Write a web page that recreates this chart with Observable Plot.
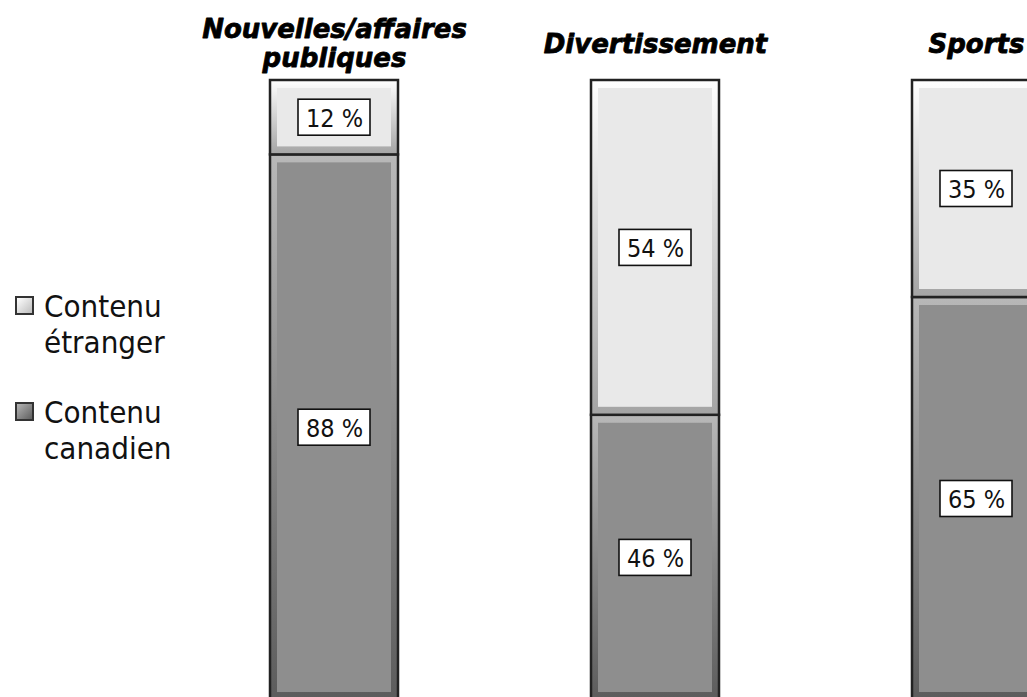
<!DOCTYPE html>
<html>
<head>
<meta charset="utf-8">
<script src="https://cdn.jsdelivr.net/npm/d3@7"></script>
<script src="https://cdn.jsdelivr.net/npm/@observablehq/plot@0.6"></script>
<style>
  html, body { margin: 0; padding: 0; overflow: hidden; background: white; }
  #wrap { position: relative; width: 1027px; height: 697px; overflow: hidden; }
  #legend { position: absolute; left: 15px; top: 288px; font-family: "DejaVu Sans Condensed", "DejaVu Sans", sans-serif; font-stretch: condensed; font-size: 31px; line-height: 36px; color: #111; }
  .item { display: flex; align-items: flex-start; margin-bottom: 34px; }
  .sw { width: 15px; height: 15px; border: 2px solid #333; margin-top: 8px; margin-right: 10px; flex: none; }
</style>
</head>
<body>
<div id="wrap">
  <div id="chart"></div>
  <div id="legend"></div>
</div>
<script>
const categories = ["Nouvelles/affaires publiques", "Divertissement", "Sports"];
const categoryLabels = ["Nouvelles/affaires\npubliques", "Divertissement", "Sports"];
const seriesNames = ["Contenu canadien", "Contenu étranger"];
const legendLines = [["Contenu", "étranger"], ["Contenu", "canadien"]];
const canadien = [88, 46, 65];
const etranger = [12, 54, 35];

const rows = categories.flatMap((c, i) => [
  {cat: c, series: seriesNames[0], y1: 0, y2: canadien[i], value: canadien[i]},
  {cat: c, series: seriesNames[1], y1: canadien[i], y2: canadien[i] + etranger[i], value: etranger[i]}
]);
rows.forEach(r => r.mid = (r.y1 + r.y2) / 2);
const can = rows.filter(r => r.series === seriesNames[0]);
const etr = rows.filter(r => r.series === seriesNames[1]);
const titles = categories.map((c, i) => ({cat: c, label: categoryLabels[i]}));

const inner = {insetLeft: 7, insetRight: 7, insetTop: 8, insetBottom: 8};

const plot = Plot.plot({
  width: 1027,
  height: 697,
  margin: 0,
  x: {domain: categories, range: [173.25, 1137.75], paddingInner: 0.6, paddingOuter: 0.3, axis: null},
  y: {domain: [0, 100], range: [700, 80], axis: null},
  marks: [
    Plot.barY(can, {x: "cat", y1: "y1", y2: "y2", fill: "url(#edgeCan)", stroke: "#222", strokeWidth: 2.5}),
    Plot.barY(can, {x: "cat", y1: "y1", y2: "y2", fill: "#8e8e8e", ...inner}),
    Plot.barY(etr, {x: "cat", y1: "y1", y2: "y2", fill: "url(#edgeEtr)", stroke: "#222", strokeWidth: 2.5}),
    Plot.barY(etr, {x: "cat", y1: "y1", y2: "y2", fill: "#e9e9e9", ...inner}),
    Plot.barY(rows, {x: "cat", y1: "mid", y2: "mid", fill: "white", stroke: "#111", strokeWidth: 1.6,
      insetTop: -18, insetBottom: -18, insetLeft: 28, insetRight: 28}),
    Plot.text(rows, {x: "cat", y: "mid", text: d => `${d.value} %`, fontSize: 25,
      fontFamily: "'DejaVu Sans Condensed', 'DejaVu Sans', sans-serif", fill: "#111", dy: 1}),
    Plot.text(titles, {x: "cat", y: () => 100, text: "label", dy: -37, lineAnchor: "middle", lineHeight: 1.12,
      fontSize: 26, fontWeight: "bold", fontStyle: "italic",
      fontFamily: "'DejaVu Sans', sans-serif", fill: "#000", stroke: "#000", strokeWidth: 0.8})
  ]
});

const ns = "http://www.w3.org/2000/svg";
const defs = document.createElementNS(ns, "defs");
defs.innerHTML = `
  <linearGradient id="edgeCan" x1="0" y1="0" x2="0" y2="1">
    <stop offset="0" stop-color="#b8b8b8"/><stop offset="1" stop-color="#5c5c5c"/>
  </linearGradient>
  <linearGradient id="edgeEtr" x1="0" y1="0" x2="0" y2="1">
    <stop offset="0" stop-color="#ffffff"/><stop offset="1" stop-color="#a4a4a4"/>
  </linearGradient>`;
plot.insertBefore(defs, plot.firstChild);
document.getElementById("chart").appendChild(plot);

const legend = document.getElementById("legend");
const swFill = ["linear-gradient(135deg, #ffffff, #bdbdbd)", "linear-gradient(135deg, #b5b5b5, #5f5f5f)"];
legendLines.forEach((lines, i) => {
  const it = document.createElement("div");
  it.className = "item";
  const sw = document.createElement("div");
  sw.className = "sw";
  sw.style.background = swFill[i];
  const tx = document.createElement("div");
  tx.innerHTML = lines.join("<br>");
  it.appendChild(sw);
  it.appendChild(tx);
  legend.appendChild(it);
});
</script>
</body>
</html>
